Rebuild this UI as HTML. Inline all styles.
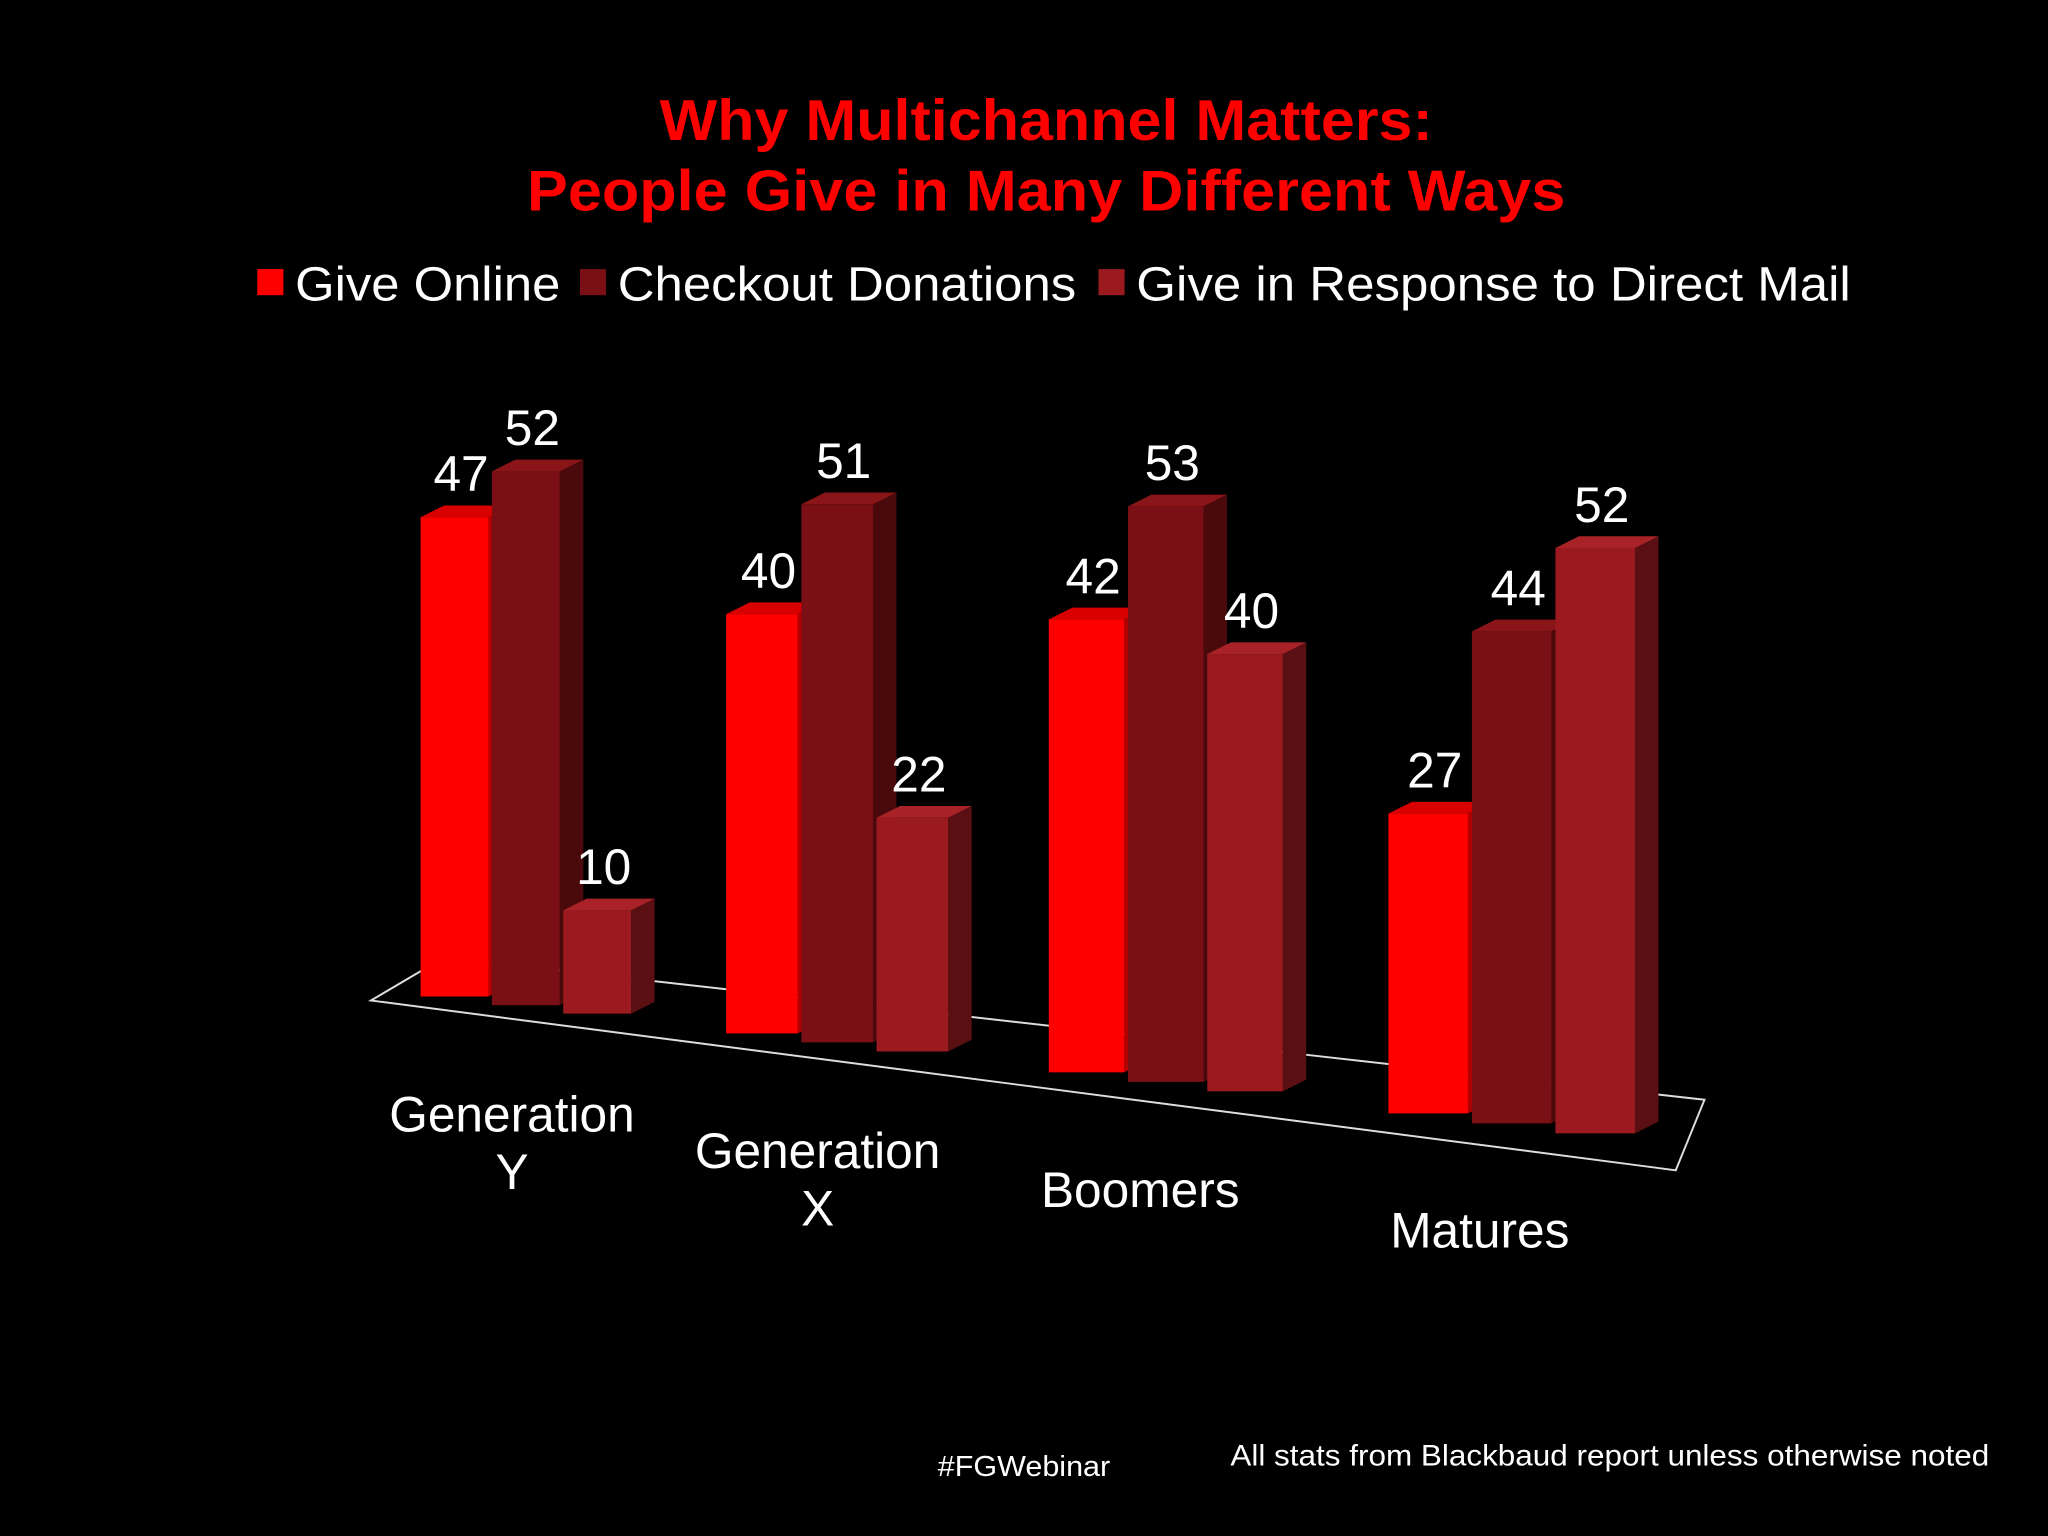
<!DOCTYPE html>
<html><head><meta charset="utf-8"><style>
html,body{margin:0;padding:0;background:#000;width:2048px;height:1536px;overflow:hidden}
svg{display:block}
text{font-family:"Liberation Sans",sans-serif}
</style></head><body>
<svg id="chart" width="2048" height="1536" viewBox="0 0 1568 1176" xmlns="http://www.w3.org/2000/svg">
<rect width="1568" height="1176" fill="#000"/>
<text x="801" y="107" text-anchor="middle" fill="#ff0000" font-weight="bold" font-size="44" textLength="592" lengthAdjust="spacingAndGlyphs">Why Multichannel Matters:</text>
<text x="801" y="161" text-anchor="middle" fill="#ff0000" font-weight="bold" font-size="44" textLength="795" lengthAdjust="spacingAndGlyphs">People Give in Many Different Ways</text>
<g font-size="37" fill="#fff">
<g><rect x="197" y="206" width="20" height="20" fill="#ff0000"/><text x="226" y="230" fill="#fff" textLength="203" lengthAdjust="spacingAndGlyphs">Give Online</text></g>
<g><rect x="444" y="206" width="20" height="20" fill="#7a1015"/><text x="473" y="230" fill="#fff" textLength="351" lengthAdjust="spacingAndGlyphs">Checkout Donations</text></g>
<g><rect x="841" y="206" width="20" height="20" fill="#9a1a1f"/><text x="870" y="230" fill="#fff" textLength="547" lengthAdjust="spacingAndGlyphs">Give in Response to Direct Mail</text></g>
</g>
<polygon points="284,766 340,733 1305,842 1283,896" fill="#000" stroke="#ddd" stroke-width="1.5"/>
<g id="bars"></g>
<g id="labels"></g>
<g id="cats"></g>
<text x="718" y="1130" font-size="22" fill="#fff" textLength="132" lengthAdjust="spacingAndGlyphs">#FGWebinar</text>
<text x="942" y="1122" font-size="23" fill="#fff" textLength="581" lengthAdjust="spacingAndGlyphs">All stats from Blackbaud report unless otherwise noted</text>
</svg>
<script>
const categories = ["Generation\nY","Generation\nX","Boomers","Matures"];
const giveOnline = [47,40,42,27];
const checkoutDonations = [52,51,53,44];
const directMail = [10,22,40,52];
const seriesNames = ["give-online","checkout-donations","direct-mail"];
const series = [giveOnline, checkoutDonations, directMail];
const colors = [
  {front:"#ff0000", side:"#b00000", top:"#d80000"},
  {front:"#7a1015", side:"#4a0a0c", top:"#8a1518"},
  {front:"#9a1a1f", side:"#5a0f12", top:"#a82228"}
];
const NS="http://www.w3.org/2000/svg";
function groupX(i){return 322+234*i+6.5*i*(i-1);}
function barW(x){return 52+(x-322)*0.012;}
function floorY(x){return 762+(x-340)*0.12;}
function yScale(v,x){return v*(7.8+(x-340)*0.00093);}
const DX=18, DY=-9;
const barsG=document.getElementById('bars'), labG=document.getElementById('labels'), catG=document.getElementById('cats');
function poly(pts,fill,name){
  const p=document.createElementNS(NS,'polygon');
  p.setAttribute('points',pts.map(a=>a.join(',')).join(' '));
  p.setAttribute('fill',fill);
  
  
  return p;
}
categories.forEach((c,i)=>{
  const gx=groupX(i);
  series.forEach((s,j)=>{
    const w=barW(gx);
    const x=gx+j*w*1.05;
    const cx=x+w/2;
    const yb=floorY(cx);
    const yt=yb-yScale(s[i],cx);
    const g=document.createElementNS(NS,'g');
    
    
    g.appendChild(poly([[x+w,yt],[x+w+DX,yt+DY],[x+w+DX,yb+DY],[x+w,yb]],colors[j].side,'bar-side'));
    g.appendChild(poly([[x,yt],[x+DX,yt+DY],[x+w+DX,yt+DY],[x+w,yt]],colors[j].top,'bar-top'));
    g.appendChild(poly([[x,yt],[x+w,yt],[x+w,yb],[x,yb]],colors[j].front,'bar-front'));
    barsG.appendChild(g);
    const t=document.createElementNS(NS,'text');
    t.setAttribute('x',cx+DX/2-4);t.setAttribute('y',yt-20);
    t.setAttribute('text-anchor','middle');t.setAttribute('fill','#fff');t.setAttribute('font-size','38');
    t.textContent=s[i];
    
    
    labG.appendChild(t);
  });
  const lines=c.split("\n");
  const lx=gx+70, ly=floorY(gx+70)+98;
  lines.forEach((ln,k)=>{
    const t=document.createElementNS(NS,'text');
    t.setAttribute('x',lx);t.setAttribute('y',ly+k*44);
    t.setAttribute('text-anchor','middle');t.setAttribute('fill','#fff');t.setAttribute('font-size','38');
    t.textContent=ln;
    
    
    catG.appendChild(t);
  });
});
</script>
</body></html>
